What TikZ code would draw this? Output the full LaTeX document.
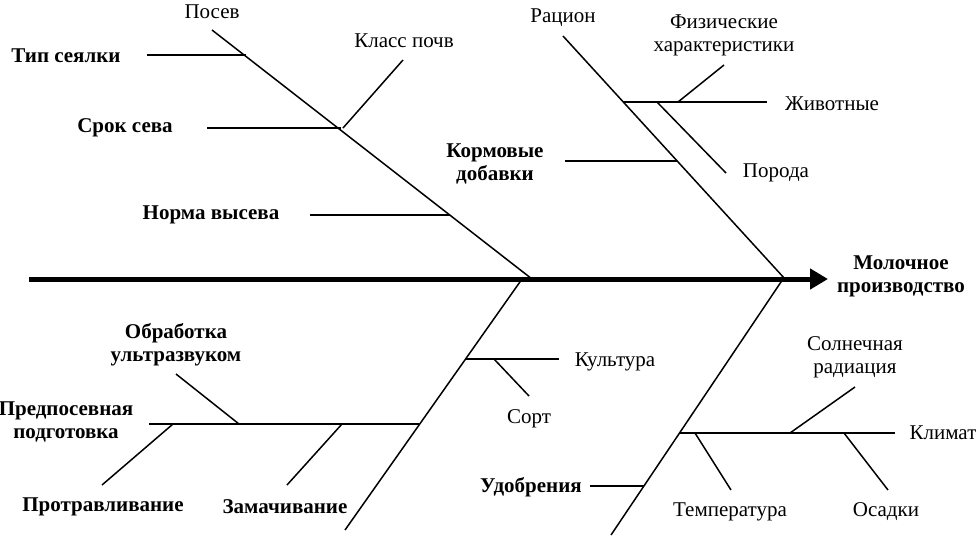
\documentclass[tikz,border=0pt]{standalone}
\usepackage{fontspec}
\setmainfont{Liberation Serif}
\usetikzlibrary{arrows.meta, positioning}

\begin{document}
\begin{tikzpicture}[x=0.5pt, y=-0.5pt, line width=0.75pt,
  lbl/.style={font=\fontsize{10.5}{11.5}\selectfont, align=center, inner sep=0pt},
  blbl/.style={font=\fontsize{10.5}{11.5}\selectfont\bfseries, align=center, inner sep=0pt}]
\useasboundingbox (0,0) rectangle (976,537);

% spine
\coordinate (tail) at (29,279);
\coordinate (head) at (828,279);
\node[blbl] (milk) at (901,276) {Молочное\\производство};
\draw[line width=2.5pt, -{Triangle[length=9pt, width=10pt]}] (tail) -- (head);

% upper left bone
\coordinate (sowtop) at (212,30);
\coordinate (sowend) at (532,279);
\node[lbl] (sow) at (212,12) {Посев};
\draw (sowtop) -- (sowend);
\coordinate (s1a) at (147,55);  \coordinate (s1b) at (246,55);
\node[blbl] (seeder) at (66,56) {Тип сеялки};
\draw (s1a) -- (s1b);
\coordinate (s2a) at (207,128); \coordinate (s2b) at (341,128);
\node[blbl] (term) at (125,128) {Срок сева};
\draw (s2a) -- (s2b);
\coordinate (s3a) at (343,128); \coordinate (s3b) at (403,60);
\node[lbl] (soil) at (404,41) {Класс почв};
\draw (s3a) -- (s3b);
\coordinate (s4a) at (310,215); \coordinate (s4b) at (450,215);
\node[blbl] (rate) at (211,215) {Норма высева};
\draw (s4a) -- (s4b);

% upper right bone
\coordinate (dietop) at (563,36);
\coordinate (dieend) at (785,279);
\node[lbl] (diet) at (563,18) {Рацион};
\draw (dietop) -- (dieend);
\coordinate (d1a) at (623,102); \coordinate (d1b) at (767,102);
\node[lbl] (animals) at (832,104) {Животные};
\draw (d1a) -- (d1b);
\coordinate (d2a) at (657,102); \coordinate (d2b) at (726,173);
\node[lbl] (breed) at (776,173) {Порода};
\draw (d2a) -- (d2b);
\coordinate (d3a) at (678,102); \coordinate (d3b) at (724,65);
\node[lbl] (phys) at (724,35) {Физические\\характеристики};
\draw (d3a) -- (d3b);
\coordinate (d4a) at (565,161); \coordinate (d4b) at (677,161);
\node[blbl] (additives) at (495,164) {Кормовые\\добавки};
\draw (d4a) -- (d4b);

% lower left bone
\coordinate (cropend) at (522,279);
\coordinate (cropbot) at (345,530);
\draw (cropend) -- (cropbot);
\coordinate (c1a) at (465,359); \coordinate (c1b) at (559,359);
\node[lbl] (crop) at (615,362) {Культура};
\draw (c1a) -- (c1b);
\coordinate (c2a) at (494,359); \coordinate (c2b) at (529,396);
\node[lbl] (variety) at (529,419) {Сорт};
\draw (c2a) -- (c2b);
\coordinate (c3a) at (149,424); \coordinate (c3b) at (419,424);
\node[blbl] (prep) at (66,422) {Предпосевная\\подготовка};
\draw (c3a) -- (c3b);
\coordinate (c4a) at (176,374); \coordinate (c4b) at (239,424);
\node[blbl] (ultra) at (176,345) {Обработка\\ультразвуком};
\draw (c4a) -- (c4b);
\coordinate (c5a) at (173,424); \coordinate (c5b) at (102,485);
\node[blbl] (dressing) at (103,507) {Протравливание};
\draw (c5a) -- (c5b);
\coordinate (c6a) at (342,424); \coordinate (c6b) at (287,485);
\node[blbl] (soaking) at (285,507) {Замачивание};
\draw (c6a) -- (c6b);

% lower right bone
\coordinate (climend) at (783,279);
\coordinate (climbot) at (611,535);
\draw (climend) -- (climbot);
\coordinate (k1a) at (680,433); \coordinate (k1b) at (895,433);
\node[lbl] (climate) at (943,433) {Климат};
\draw (k1a) -- (k1b);
\coordinate (k2a) at (790,433); \coordinate (k2b) at (855,387);
\node[lbl] (sun) at (855,357) {Солнечная\\радиация};
\draw (k2a) -- (k2b);
\coordinate (k3a) at (844,433); \coordinate (k3b) at (888,490);
\node[lbl] (rain) at (886,512) {Осадки};
\draw (k3a) -- (k3b);
\coordinate (k4a) at (695,433); \coordinate (k4b) at (731,490);
\node[lbl] (temp) at (730,512) {Температура};
\draw (k4a) -- (k4b);
\coordinate (k5a) at (590,486); \coordinate (k5b) at (644,486);
\node[blbl] (fert) at (531,487) {Удобрения};
\draw (k5a) -- (k5b);
\end{tikzpicture}
\end{document}
